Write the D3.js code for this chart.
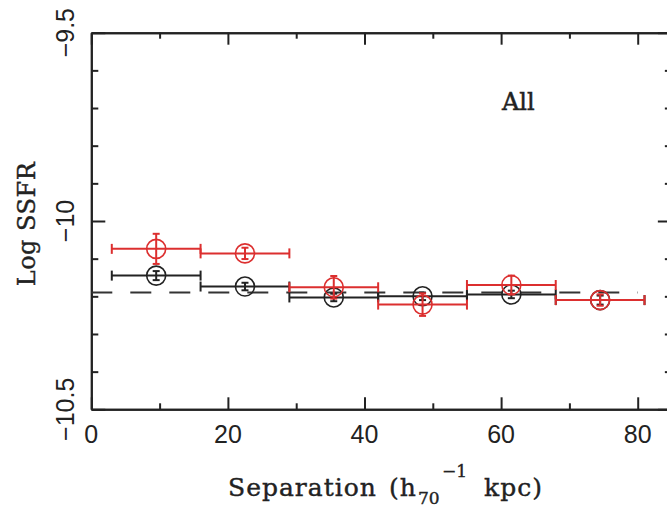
<!DOCTYPE html>
<html>
<head>
<meta charset="utf-8">
<script src="https://cdn.jsdelivr.net/npm/d3@7"></script>
<style>
  body { margin: 0; background: #fff; }
  svg { display: block; }
</style>
</head>
<body>
<div id="chart"></div>
<script>
const WIDTH = 667;
const HEIGHT = 511;

// bins in separation (h70^-1 kpc)
const binLo = [3, 16, 29, 42, 55, 68];
const binHi = [16, 29, 42, 55, 68, 81];
const sepCenter = [9.5, 22.5, 35.5, 48.5, 61.5, 74.5];

// black sample
const blackVal = [-10.145, -10.174, -10.203, -10.2, -10.195, -10.21];
const blackErr = [0.012, 0.01, 0.01, 0.01, 0.01, 0.012];

// red sample
const redVal = [-10.074, -10.086, -10.176, -10.222, -10.17, -10.21];
const redErr = [0.04, 0.015, 0.03, 0.03, 0.025, 0.015];

// dashed reference level
const refLevel = -10.19;
const refRange = [0, 80];

const xMajor = [0, 20, 40, 60, 80];
const xMinor = [10, 30, 50, 70];
const yMajor = [-10.5, -10, -9.5];
const yMinor = [-10.4, -10.3, -10.2, -10.1, -9.9, -9.8, -9.7, -9.6];

const PLOT = { left: 91.3, top: 32.7, bottom: 409.3 };

const x = d3.scaleLinear().domain([0, 85]).range([PLOT.left, PLOT.left + 85 * 6.83]);
const y = d3.scaleLinear().domain([-10.5, -9.5]).range([PLOT.bottom, PLOT.top]);

const svg = d3.select("#chart").append("svg")
  .attr("width", WIDTH)
  .attr("height", HEIGHT);

const fmt = d => (d < 0 ? "\u2212" + Math.abs(d) : String(d));

// axes: ticks point inward on all four sides
function drawAxis(axisFn, scale, pos, ticks, size) {
  const g = svg.append("g")
    .attr("transform", pos)
    .call(axisFn(scale).tickValues(ticks).tickSizeInner(-size).tickSizeOuter(0).tickFormat(""));
  g.selectAll("path, line").attr("stroke", "#222").attr("stroke-width", 2);
  return g;
}

const xr = x.range();
drawAxis(d3.axisBottom, x, `translate(0,${PLOT.bottom})`, xMajor, 12);
drawAxis(d3.axisBottom, x, `translate(0,${PLOT.bottom})`, xMinor, 6);
drawAxis(d3.axisTop, x, `translate(0,${PLOT.top})`, xMajor, 12);
drawAxis(d3.axisTop, x, `translate(0,${PLOT.top})`, xMinor, 6);
drawAxis(d3.axisLeft, y, `translate(${PLOT.left},0)`, yMajor, 14);
drawAxis(d3.axisLeft, y, `translate(${PLOT.left},0)`, yMinor, 7);
drawAxis(d3.axisRight, y, `translate(${xr[1]},0)`, yMajor, 14);
drawAxis(d3.axisRight, y, `translate(${xr[1]},0)`, yMinor, 7);

// tick labels
svg.append("g").selectAll("text")
  .data(xMajor)
  .join("text")
    .attr("x", d => x(d))
    .attr("y", 443)
    .attr("text-anchor", "middle")
    .attr("font-family", "Liberation Sans, Arial, sans-serif")
    .attr("font-size", 25)
    .attr("fill", "#222")
    .text(fmt);

svg.append("g").selectAll("text")
  .data(yMajor)
  .join("text")
    .attr("transform", d => `translate(74,${y(d)}) rotate(-90)`)
    .attr("text-anchor", "middle")
    .attr("font-family", "Liberation Sans, Arial, sans-serif")
    .attr("font-size", 25)
    .attr("fill", "#222")
    .text(fmt);

// axis titles
svg.append("text")
  .attr("transform", "translate(35,224) rotate(-90)")
  .attr("text-anchor", "middle")
  .attr("font-family", "DejaVu Serif, serif")
  .attr("font-size", 24)
  .attr("letter-spacing", 0.5)
  .attr("fill", "#222")
  .attr("stroke", "#222")
  .attr("stroke-width", 0.4)
  .text("Log SSFR");

const xt = svg.append("text")
  .attr("y", 496)
  .attr("font-family", "DejaVu Serif, serif")
  .attr("font-size", 25)
  .attr("letter-spacing", 1)
  .attr("fill", "#222")
  .attr("stroke", "#222")
  .attr("stroke-width", 0.4);
xt.append("tspan").attr("x", 228).text("Separation");
xt.append("tspan").attr("x", 389).text("(h");
xt.append("tspan").attr("x", 418).attr("dy", 8).attr("font-size", 17).attr("letter-spacing", 0).text("70");
xt.append("tspan").attr("x", 442).attr("dy", -27).attr("font-size", 17).attr("letter-spacing", 0).text("\u22121");
xt.append("tspan").attr("x", 484).attr("dy", 19).text("kpc)");

svg.append("text")
  .attr("x", 502)
  .attr("y", 110)
  .attr("font-family", "DejaVu Serif, serif")
  .attr("font-size", 24)
  .attr("fill", "#222")
  .attr("stroke", "#222")
  .attr("stroke-width", 0.5)
  .text("All");

// dashed reference line
svg.append("line")
  .attr("x1", x(refRange[0]))
  .attr("x2", x(refRange[1]))
  .attr("y1", y(refLevel))
  .attr("y2", y(refLevel))
  .attr("stroke", "#333")
  .attr("stroke-width", 2)
  .attr("stroke-dasharray", "21,18");

function series(vals, errs, color) {
  const data = vals.map((v, i) => ({ lo: binLo[i], hi: binHi[i], c: sepCenter[i], v, e: errs[i] }));
  const g = svg.append("g").attr("stroke", color).attr("fill", "none").attr("stroke-width", 2);
  // horizontal bin bars with end caps
  g.selectAll(".bar").data(data).join("line")
    .attr("x1", d => x(d.lo)).attr("x2", d => x(d.hi))
    .attr("y1", d => y(d.v)).attr("y2", d => y(d.v));
  g.selectAll(".capL").data(data).join("line")
    .attr("x1", d => x(d.lo)).attr("x2", d => x(d.lo))
    .attr("y1", d => y(d.v) - 5).attr("y2", d => y(d.v) + 5);
  g.selectAll(".capR").data(data).join("line")
    .attr("x1", d => x(d.hi)).attr("x2", d => x(d.hi))
    .attr("y1", d => y(d.v) - 5).attr("y2", d => y(d.v) + 5);
  // vertical error bars
  g.selectAll(".err").data(data).join("line")
    .attr("x1", d => x(d.c)).attr("x2", d => x(d.c))
    .attr("y1", d => y(d.v - d.e)).attr("y2", d => y(d.v + d.e));
  g.selectAll(".eTop").data(data).join("line")
    .attr("x1", d => x(d.c) - 3.5).attr("x2", d => x(d.c) + 3.5)
    .attr("y1", d => y(d.v + d.e)).attr("y2", d => y(d.v + d.e));
  g.selectAll(".eBot").data(data).join("line")
    .attr("x1", d => x(d.c) - 3.5).attr("x2", d => x(d.c) + 3.5)
    .attr("y1", d => y(d.v - d.e)).attr("y2", d => y(d.v - d.e));
  g.selectAll("circle").data(data).join("circle")
    .attr("cx", d => x(d.c))
    .attr("cy", d => y(d.v))
    .attr("r", 9.5)
    .attr("stroke-width", 1.6);
}

series(blackVal, blackErr, "#222");
series(redVal, redErr, "#dc2f2f");
</script>
</body>
</html>
